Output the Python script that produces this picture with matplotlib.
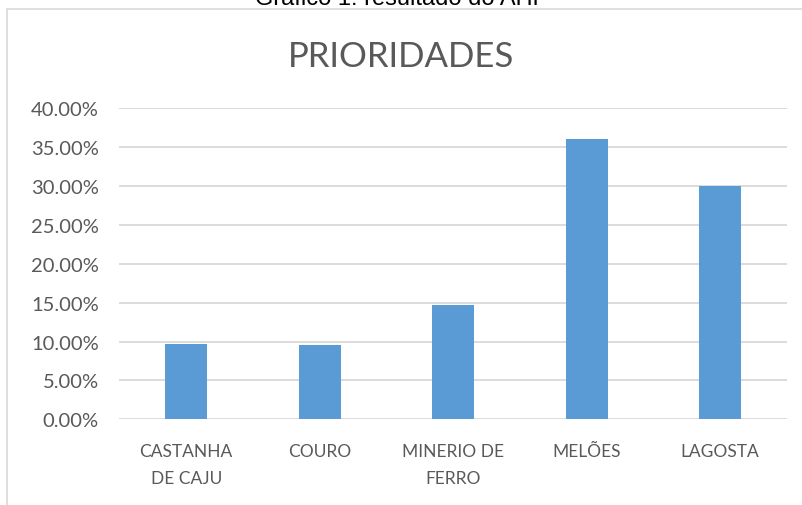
import matplotlib
matplotlib.use('Agg')
import matplotlib.pyplot as plt
from matplotlib.patches import Rectangle
from matplotlib.ticker import FuncFormatter

categorias = ['CASTANHA\nDE CAJU', 'COURO', 'MINERIO DE\nFERRO', 'MELÕES', 'LAGOSTA']
valores = [9.7, 9.5, 14.7, 36.1, 29.95]
yticks = [0, 5, 10, 15, 20, 25, 30, 35, 40]

plt.rcParams['font.family'] = ['Lato', 'DejaVu Sans']
cinza = '#595959'
azul = '#5b9bd5'

fig = plt.figure(figsize=(8.03, 5.06), dpi=100)

# borda do grafico (cortada a direita e embaixo)
fig.patches.append(Rectangle((7 / 803, -0.1), 1.0, 1 - 10 / 506 + 0.1,
                             transform=fig.transFigure, fill=False,
                             edgecolor='#d9d9d9', linewidth=1.2))

fig.text(0.5, 1 - 5 / 506, 'Gráfico 1: resultado do AHP', ha='center', va='baseline',
         fontsize=17, family='Liberation Sans', color='black')

ax = fig.add_axes([119.5 / 803, 1 - 420.3 / 506, 667.5 / 803, 311 / 506])
x = range(len(categorias))
ax.bar(x, valores, width=0.315, color=azul, zorder=3)
ax.set_xlim(-0.5, len(categorias) - 0.5)
ax.set_ylim(0, 40)
ax.set_yticks(yticks)
ax.yaxis.set_major_formatter(FuncFormatter(lambda v, p: '%.2f%%' % v))
ax.set_xticks(list(x))
ax.set_xticklabels(categorias, fontsize=12.5, color=cinza, linespacing=1.85)
ax.tick_params(axis='y', labelsize=14.5, labelcolor=cinza, length=0, pad=15)
ax.tick_params(axis='x', length=0, pad=17)
ax.grid(axis='y', color='#d9d9d9', linewidth=1.3, zorder=0)
for s in ax.spines.values():
    s.set_visible(False)

fig.text(0.5, 1 - 57 / 506, 'PRIORIDADES', ha='center', va='center',
         fontsize=25, color=cinza)

fig.savefig('out.png', dpi=100)
